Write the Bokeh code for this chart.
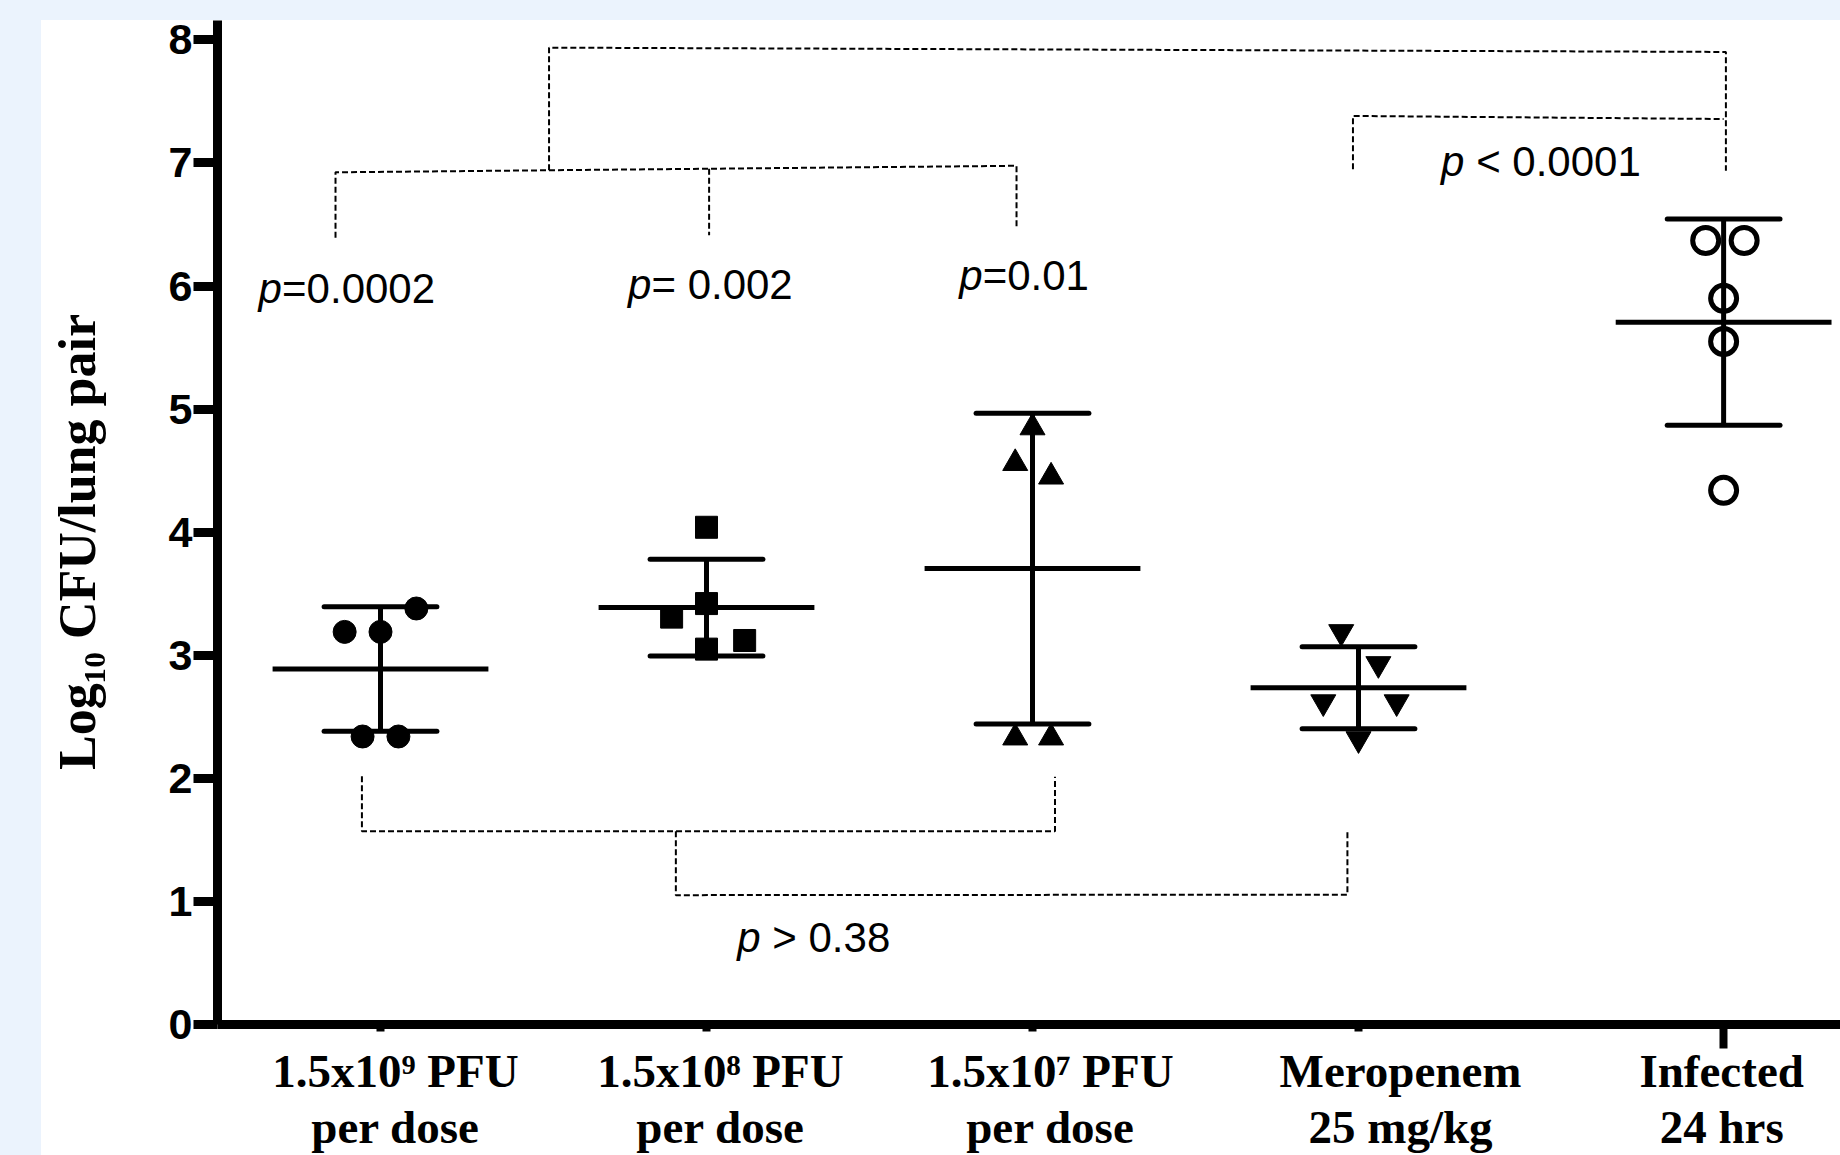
import numpy as np
from bokeh.plotting import figure
from bokeh.models import FixedTicker, Range1d, LinearAxis
from bokeh.core.properties import value
from bokeh.embed import file_html
from bokeh.resources import INLINE

# ---------------- data ----------------
group_labels = ["1.5x10\u2079 PFU\nper dose", "1.5x10\u2078 PFU\nper dose",
                "1.5x10\u2077 PFU\nper dose", "Meropenem\n25 mg/kg", "Infected\n24 hrs"]
group_pos = [1, 2, 3, 4, 5.12]
label_shift = [0.046, 0.043, 0.055, 0.129, -0.006]   # labels sit slightly off their ticks

phage_1e9 = [3.38, 3.19, 3.19, 2.34, 2.34]
phage_1e8 = [4.04, 3.31, 3.42, 3.05, 3.12]
phage_1e7 = [4.85, 4.56, 4.45, 2.33, 2.33]
meropenem = [3.19, 2.93, 2.62, 2.62, 2.32]
infected_24h = [6.37, 6.37, 5.90, 5.55, 4.34]
series = [phage_1e9, phage_1e8, phage_1e7, meropenem, infected_24h]

# horizontal scatter of points inside each group (category units)
jitter = [[0.11, -0.11, 0.0, -0.055, 0.055],
          [0.0, -0.107, 0.0, 0.0, 0.117],
          [0.0, -0.053, 0.057, -0.053, 0.057],
          [-0.053, 0.061, -0.108, 0.117, 0.0],
          [-0.055, 0.063, 0.0, 0.0, 0.0]]

y_ticks = [0, 1, 2, 3, 4, 5, 6, 7, 8]

NBSP = "\u00a0"
p_texts = [("p", "=0.0002"), ("p", "=" + NBSP + "0.002"), ("p", "=0.01"),
           ("p", NBSP + "<" + NBSP + "0.0001"), ("p", NBSP + ">" + NBSP + "0.38")]
p_text_x = [0.626, 1.759, 2.775, 4.253, 2.094]
p_text_y = [5.977, 6.011, 6.087, 7.012, 0.709]

# comparison brackets (data coordinates)
brackets = [
    ([0.862, 0.862, 2.951, 2.951], [6.392, 6.924, 6.977, 6.481]),
    ([2.008, 2.008], [6.952, 6.412]),
    ([1.517, 1.517, 5.127, 5.127], [6.940, 7.937, 7.902, 6.936]),
    ([3.983, 3.983, 5.120], [6.949, 7.382, 7.357]),
    ([0.943, 0.943, 3.069, 3.069], [2.017, 1.571, 1.571, 2.013]),
    ([1.906, 1.906, 3.966, 3.966], [1.571, 1.051, 1.055, 1.571]),
]

# ---------------- figure ----------------
W, H = 1840, 1155
BG = "#EBF3FD"
p = figure(width=W, height=H, output_backend="svg", toolbar_location=None,
           x_range=Range1d(0.5, 0.5 + 1623 / 326.0), y_range=Range1d(0, 1005 / 123.2),
           min_border_left=217, min_border_right=0, min_border_top=20, min_border_bottom=130,
           background_fill_color="white", border_fill_color=None)
p.styles = {"background": f"linear-gradient(to right, {BG} 41px, rgba(0,0,0,0) 41px), "
                          f"linear-gradient(to bottom, {BG} 20px, #FFFFFF 20px)"}
p.outline_line_color = None
p.grid.visible = False

# y axis
ya = p.yaxis[0]
ya.ticker = FixedTicker(ticks=y_ticks, minor_ticks=[])
ya.axis_line_width = 9
ya.major_tick_line_width = 9
ya.major_tick_out = 24
ya.major_tick_in = 0
ya.major_label_standoff = 1
ya.major_label_text_font = "Liberation Sans"
ya.major_label_text_font_style = "bold"
ya.major_label_text_font_size = "43px"
ya.major_label_text_color = "black"
ya.axis_label = "Log\u2081\u2080 CFU/lung pair" + NBSP * 3
ya.axis_label_text_font = "Liberation Serif"
ya.axis_label_text_font_style = "bold"
ya.axis_label_text_font_size = "52px"
ya.axis_label_standoff = 60
ya.axis_label_text_color = "black"

# x axis: line and tick marks (the last group has a longer tick)
xa = p.xaxis[0]
xa.ticker = FixedTicker(ticks=group_pos[:4], minor_ticks=[group_pos[4]])
xa.axis_line_width = 9
xa.major_tick_line_width = 8
xa.major_tick_out = 7
xa.major_tick_in = 0
xa.minor_tick_line_width = 8
xa.minor_tick_out = 24
xa.minor_tick_in = 0
xa.major_label_overrides = {pos: "" for pos in group_pos[:4]}
xa.major_label_text_font_size = "0px"
xa.major_label_standoff = 0

# x axis: group labels
label_pos = [g + d for g, d in zip(group_pos, label_shift)]
xb = LinearAxis(ticker=FixedTicker(ticks=label_pos, minor_ticks=[]),
                major_label_overrides={lp: lab for lp, lab in zip(label_pos, group_labels)},
                axis_line_color=None, major_tick_line_color=None, minor_tick_line_color=None,
                major_tick_out=0, major_tick_in=0, minor_tick_out=0, minor_tick_in=0,
                major_label_standoff=-4,
                major_label_text_font="Liberation Serif", major_label_text_font_style="bold",
                major_label_text_font_size="47px", major_label_text_line_height=1.08,
                major_label_text_color="black")
p.add_layout(xb, "below")

# brackets
p.multi_line(xs=[b[0] for b in brackets], ys=[b[1] for b in brackets],
             line_color="black", line_width=2, line_dash="6 3")

# mean +/- SD error bars
means = [float(np.mean(s)) for s in series]
sds = [float(np.std(s, ddof=1)) for s in series]
cap_hw, mean_hw = 0.173, 0.331
pos = np.array(group_pos, dtype=float)
m = np.array(means)
s = np.array(sds)
p.segment(x0=pos, y0=m - s, x1=pos, y1=m + s, line_color="black", line_width=5)
p.segment(x0=pos - cap_hw, y0=m + s, x1=pos + cap_hw, y1=m + s, line_color="black", line_width=5, line_cap="round")
p.segment(x0=pos - cap_hw, y0=m - s, x1=pos + cap_hw, y1=m - s, line_color="black", line_width=5, line_cap="round")
p.segment(x0=pos - mean_hw, y0=m, x1=pos + mean_hw, y1=m, line_color="black", line_width=5)

# points
styles = [dict(marker="circle", size=23, fill_color="black", line_color="black", line_width=1),
          dict(marker="square", size=22, fill_color="black", line_color="black", line_width=1),
          dict(marker="triangle", size=25, fill_color="black", line_color="black", line_width=1),
          dict(marker="inverted_triangle", size=25, fill_color="black", line_color="black", line_width=1),
          dict(marker="circle", size=26, fill_color=None, line_color="black", line_width=5)]
for gp, vals, jit, st in zip(group_pos, series, jitter, styles):
    xs = [gp + j for j in jit]
    p.scatter(x=xs, y=vals, **st)

# p-value annotations: italic "p" followed by the rest
p.text(x=p_text_x, y=p_text_y, text=[t[0] for t in p_texts],
       text_font=value("Liberation Sans"), text_font_style="italic", text_font_size="42px",
       text_color="black", text_align="left", text_baseline="alphabetic")
p.text(x=p_text_x, y=p_text_y, text=[t[1] for t in p_texts], x_offset=23.5,
       text_font=value("Liberation Sans"), text_font_style="normal", text_font_size="42px",
       text_color="black", text_align="left", text_baseline="alphabetic")

open("out.html", "w").write(file_html(p, INLINE, title="Log10 CFU per lung pair"))
